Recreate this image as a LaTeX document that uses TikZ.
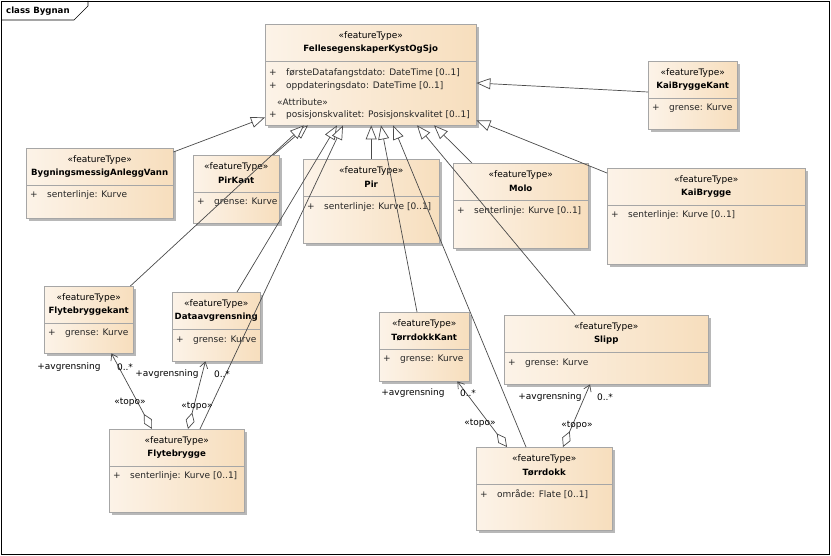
\documentclass[tikz,border=0pt]{standalone}
\usepackage{fontspec}
\setmainfont{DejaVu Sans}
\usetikzlibrary{arrows.meta, shadows}

\definecolor{boxleft}{HTML}{FCF3E8}
\definecolor{boxright}{HTML}{F7DEBD}
\definecolor{boxline}{HTML}{A6A6A6}
\definecolor{boxshadow}{HTML}{B8B8B8}
\definecolor{linecol}{HTML}{4A4A4A}

\tikzset{
  featbox/.style={draw=boxline, left color=boxleft, right color=boxright,
    anchor=north west, inner sep=0pt,
    drop shadow={shadow xshift=3pt, shadow yshift=-3pt, fill=boxshadow, opacity=1}},
  sepline/.style={draw=boxline},
  stereo/.style={inner sep=0pt},
  cname/.style={inner sep=0pt, font=\fontsize{8.6}{10}\selectfont\bfseries},
  attr/.style={inner sep=0pt, anchor=west, text=black!85},
  lbl/.style={inner sep=0pt},
  gen/.style={draw=linecol, line width=0.7pt,
    -{Triangle[length=14pt, width=11pt, fill=white]}},
  assoc/.style={draw=linecol, line width=0.7pt,
    {Diamond[length=17pt, width=9pt, fill=white]}-{Straight Barb[length=6pt, width=8pt]}}
}

% box: name, x, y, width, height, title
\newcommand{\featclass}[6]{%
  \node[featbox, minimum width=#4pt, minimum height=#5pt] (#1) at (#2,#3) {};
  \node[stereo] (#1-st) at ([yshift=-12pt]#1.north) {«featureType»};
  \node[cname] (#1-nm) at ([yshift=-25pt]#1.north) {#6};
  \draw[sepline] ([yshift=-37pt]#1.north west) -- ([yshift=-37pt]#1.north east);
}
% attribute line: box, id, offset, text
\newcommand{\featattr}[4]{%
  \node[attr] (#1-#2) at ([xshift=4pt, yshift=-#3pt]#1.north west) {\makebox[17pt][l]{+}#4};
}

\begin{document}
\begin{tikzpicture}[x=1pt, y=-1pt, every node/.style={font=\fontsize{9}{11}\selectfont}]
\useasboundingbox (0,0) rectangle (831,556);

% frame
\draw[black, line width=0.7pt] (1,1) rectangle (829,554);
\draw[black, line width=0.7pt] (1,20) -- (74,20) -- (88,6) -- (88,1);
\node[lbl, anchor=west, font=\fontsize{8.6}{10}\selectfont\bfseries] (frame) at (6,11) {class Bygnan};

% classes
\featclass{felles}{265}{24}{211}{101}{FellesegenskaperKystOgSjo}
\featattr{felles}{a}{49}{førsteDatafangstdato: DateTime [0..1]}
\featattr{felles}{b}{62}{oppdateringsdato: DateTime [0..1]}
\node[attr] (felles-c) at ([xshift=12pt, yshift=-78pt]felles.north west) {«Attribute»};
\featattr{felles}{d}{91}{posisjonskvalitet: Posisjonskvalitet [0..1]}

\featclass{kbkant}{648}{61}{89}{68}{KaiBryggeKant}
\featattr{kbkant}{a}{47}{grense: Kurve}

\featclass{kaibrygge}{607}{168}{198}{96}{KaiBrygge}
\featattr{kaibrygge}{a}{47}{senterlinje: Kurve [0..1]}

\featclass{bygn}{26}{148}{147}{70}{BygningsmessigAnleggVann}
\featattr{bygn}{a}{47}{senterlinje: Kurve}

\featclass{pirkant}{193}{155}{86}{68}{PirKant}
\featattr{pirkant}{a}{47}{grense: Kurve}

\featclass{pir}{303}{159}{136}{84}{Pir}
\featattr{pir}{a}{48}{senterlinje: Kurve [0..1]}

\featclass{molo}{453}{163}{135}{85}{Molo}
\featattr{molo}{a}{48}{senterlinje: Kurve [0..1]}

\featclass{flytekant}{44}{286}{89}{67}{Flytebryggekant}
\featattr{flytekant}{a}{47}{grense: Kurve}

\featclass{dataavg}{172}{292}{88}{69}{Dataavgrensning}
\featattr{dataavg}{a}{48}{grense: Kurve}

\featclass{flytebrygge}{109}{429}{135}{83}{Flytebrygge}
\featattr{flytebrygge}{a}{47}{senterlinje: Kurve [0..1]}

\featclass{tkant}{379}{312}{90}{69}{TørrdokkKant}
\featattr{tkant}{a}{47}{grense: Kurve}

\featclass{slipp}{504}{315}{204}{69}{Slipp}
\featattr{slipp}{a}{48}{grense: Kurve}

\featclass{tdokk}{476}{447}{136}{83}{Tørrdokk}
\featattr{tdokk}{a}{47}{område: Flate [0..1]}

% generalisations
\draw[gen] ([yshift=-4pt]bygn.north east) -- ([yshift=8pt]felles.south west);
\draw[gen] ([yshift=-31pt]kbkant.north west) -- ([yshift=-59pt]felles.north east);
\draw[gen] ([yshift=-5pt]kaibrygge.north west) -- ([yshift=5pt]felles.south east);
\draw[gen] (pir.north) -- (pir.north |- felles.south);
\draw[gen] ([xshift=-6pt]pirkant.north east) -- ([xshift=43pt]felles.south west);
\draw[gen] ([xshift=-3pt]flytekant.north east) -- ([xshift=39pt]felles.south west);
\draw[gen] ([xshift=65pt]dataavg.north west) -- ([xshift=72pt]felles.south west);
\draw[gen] ([xshift=91pt]flytebrygge.north west) -- ([xshift=78pt]felles.south west);
\draw[gen] ([xshift=38pt]tkant.north west) -- ([xshift=116pt]felles.south west);
\draw[gen] ([xshift=50pt]tdokk.north west) -- ([xshift=128pt]felles.south west);
\draw[gen] ([xshift=71pt]slipp.north west) -- ([xshift=152pt]felles.south west);
\draw[gen] ([xshift=19pt]molo.north west) -- ([xshift=169pt]felles.south west);

% topo associations
\draw[assoc] ([xshift=43pt]flytebrygge.north west) -- ([xshift=-22pt]flytekant.south east);
\node[lbl] (l1r) at (69,367) {+avgrensning};
\node[lbl] (l1m) at (125,367) {0..*};
\node[lbl] (l1t) at (130,402) {«topo»};

\draw[assoc] ([xshift=79pt]flytebrygge.north west) -- ([xshift=-55pt]dataavg.south east);
\node[lbl] (l2r) at (167,374) {+avgrensning};
\node[lbl] (l2m) at (222,374) {0..*};
\node[lbl] (l2t) at (197,406) {«topo»};

\draw[assoc] ([xshift=31pt]tdokk.north west) -- ([xshift=-12pt]tkant.south east);
\node[lbl] (l3r) at (413,393) {+avgrensning};
\node[lbl] (l3m) at (468,393) {0..*};
\node[lbl] (l3t) at (480,423) {«topo»};

\draw[assoc] ([xshift=87pt]tdokk.north west) -- ([xshift=86pt]slipp.south west);
\node[lbl] (l4r) at (550,397) {+avgrensning};
\node[lbl] (l4m) at (605,397) {0..*};
\node[lbl] (l4t) at (577,425) {«topo»};

\end{tikzpicture}
\end{document}
